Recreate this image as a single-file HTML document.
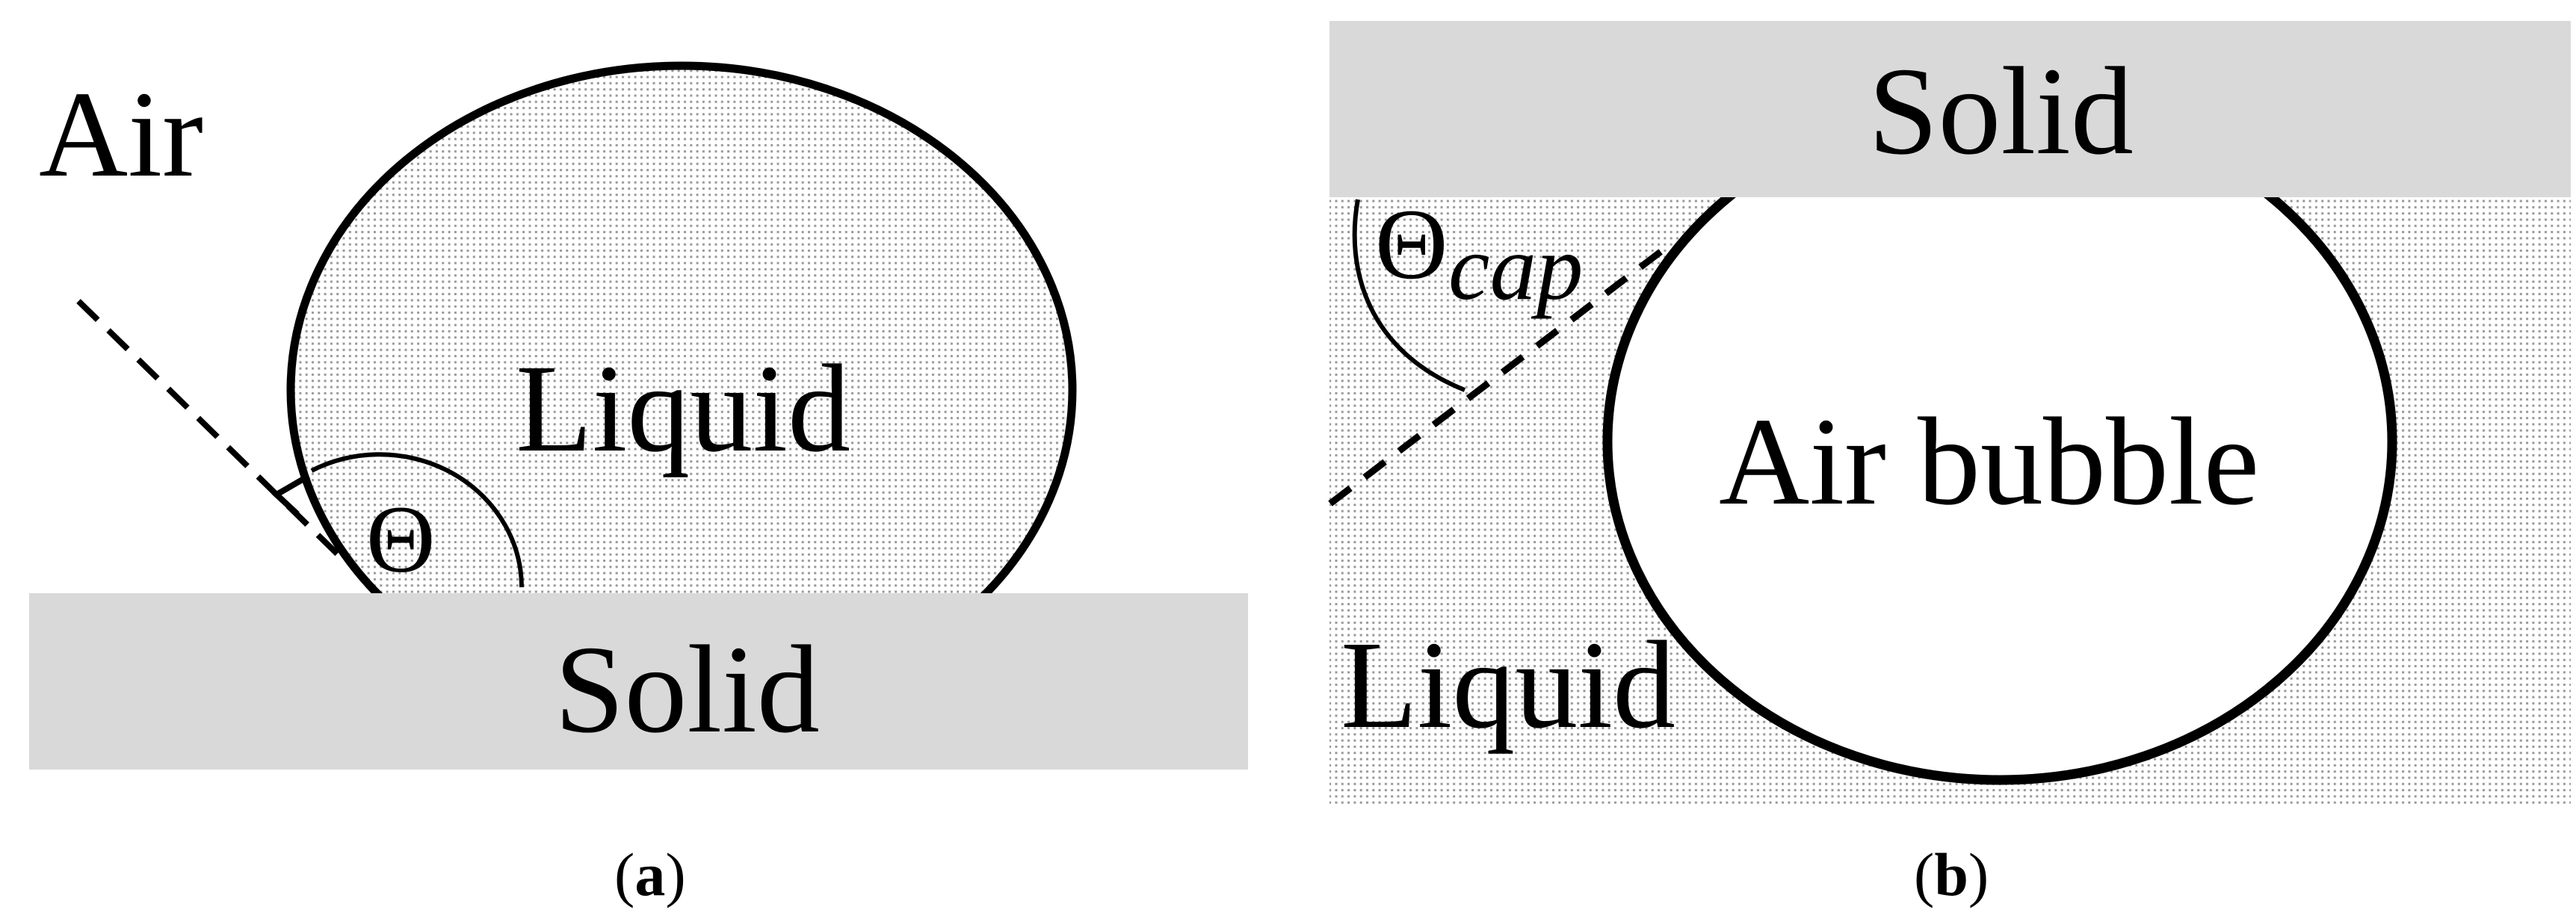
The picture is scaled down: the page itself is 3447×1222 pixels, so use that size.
<!DOCTYPE html>
<html><head><meta charset="utf-8"><style>
html,body{margin:0;padding:0;background:#fff;}
svg{display:block;}
text{font-family:"Liberation Serif","DejaVu Serif",serif;fill:#000;}
</style></head><body>
<svg width="3447" height="1222" viewBox="0 0 3447 1222" xmlns="http://www.w3.org/2000/svg">
<defs>
<pattern id="dots" width="8.3" height="8.3" patternUnits="userSpaceOnUse">
<rect width="8.3" height="8.3" fill="#ffffff"/>
<rect x="2" y="2" width="3" height="3" fill="#999"/>
</pattern>
<clipPath id="ca"><rect x="0" y="0" width="1720" height="794"/></clipPath>
</defs>
<!-- Panel a -->
<g clip-path="url(#ca)">
<ellipse cx="912" cy="522" rx="523" ry="434" fill="url(#dots)" stroke="#000" stroke-width="11"/>
</g>
<rect x="39" y="794" width="1631" height="236" fill="#d9d9d9"/>
<line x1="105" y1="403" x2="452" y2="742" stroke="#000" stroke-width="8" stroke-dasharray="36,20"/>
<polyline points="413,637 370,662 398,688" fill="none" stroke="#000" stroke-width="8"/>
<path d="M417 630 A 190 178 0 0 1 698 786" fill="none" stroke="#000" stroke-width="6"/>
<text x="490" y="765" font-size="128">Θ</text>
<text x="52" y="235" font-size="165">Air</text>
<text x="690" y="603" font-size="168">Liquid</text>
<text x="742" y="979" font-size="168">Solid</text>
<text x="822" y="1198" font-size="82">(<tspan font-weight="bold">a</tspan>)</text>
<!-- Panel b -->
<rect x="1779" y="263" width="1661" height="813" fill="url(#dots)"/>
<ellipse cx="2676" cy="591" rx="525" ry="453" fill="#fff" stroke="#000" stroke-width="13"/>
<rect x="1779" y="28" width="1661" height="236" fill="#d9d9d9"/>
<line x1="1780" y1="674" x2="2226" y2="334" stroke="#000" stroke-width="9" stroke-dasharray="34,24"/>
<path d="M1817 267 C 1800 360, 1830 470, 1960 522" fill="none" stroke="#000" stroke-width="6"/>
<text x="1840" y="372" font-size="135">Θ</text>
<text x="1938" y="400" font-size="125" font-style="italic">cap</text>
<text x="2500" y="205" font-size="168">Solid</text>
<text x="2300" y="674" font-size="168">Air bubble</text>
<text x="1794" y="973" font-size="168">Liquid</text>
<text x="2561" y="1198" font-size="82">(<tspan font-weight="bold">b</tspan>)</text>
</svg>
</body></html>
